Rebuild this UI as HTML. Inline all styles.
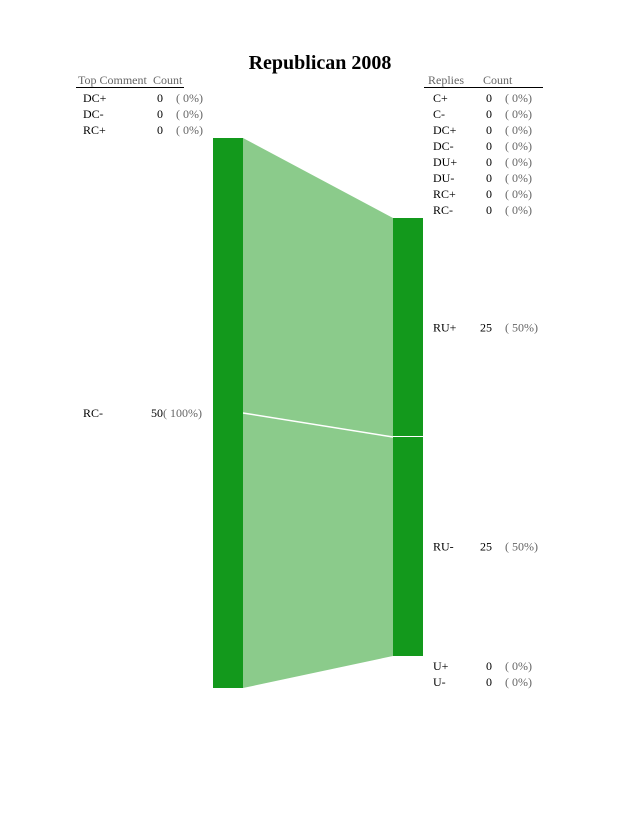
<!DOCTYPE html>
<html><head><meta charset="utf-8"><style>
body{margin:0;background:#fff;}
svg text{font-family:"Liberation Serif",serif;font-size:12px;}
</style></head><body>
<svg id="c" width="630" height="811">
<text x="320" y="69" text-anchor="middle" style="font-size:20px;font-weight:bold">Republican 2008</text>
<g>
<text x="78" y="84" fill="#666">Top Comment</text><text x="153" y="84" fill="#666">Count</text>
<line x1="76" y1="87.5" x2="184" y2="87.5" stroke="#000"/></g>
<g>
<text x="428" y="84" fill="#666">Replies</text><text x="483" y="84" fill="#666">Count</text>
<line x1="424" y1="87.5" x2="543" y2="87.5" stroke="#000"/></g>
</svg>
<script>
const leftCats=["DC+","DC-","RC+","RC-"];
const leftVals=[0,0,0,50];
const rightCats=["C+","C-","DC+","DC-","DU+","DU-","RC+","RC-","RU+","RU-","U+","U-"];
const rightVals=[0,0,0,0,0,0,0,0,25,25,0,0];
const flowSource=["RC-","RC-"];
const flowTarget=["RU+","RU-"];
const flowVals=[25,25];

const svg=document.getElementById('c');
const NS="http://www.w3.org/2000/svg";
function mk(t,a,p){const e=document.createElementNS(NS,t);for(const k in a)e.setAttribute(k,a[k]);(p||svg).appendChild(e);return e;}
const total=leftVals.reduce((a,b)=>a+b,0);
const rTotal=rightVals.reduce((a,b)=>a+b,0);
const lTop=138,lH=550,rTop=218,rH=438;
const ly=v=>v/total*lH, ry=v=>v/rTotal*rH;
const flowLayer=mk('g',{});


// left nodes
const lPos={};let y=lTop,zeroY=98;
leftCats.forEach((c,i)=>{
  const v=leftVals[i];let ty;
  if(v>0){const h=ly(v);lPos[c]={y0:y,cur:y};
    const r=mk('rect',{x:213,y:y,width:30,height:h,fill:'#13991c'});
    
    
    ty=y+h/2+4;y+=h;}
  else{ty=zeroY+4;zeroY+=16;}
  const g=mk('g',{});
  
  
  mk('text',{x:83,y:ty},g).textContent=c;
  mk('text',{x:163,y:ty,'text-anchor':'end'},g).textContent=v;
  mk('text',{x:v>0?163:176,y:ty,fill:'#666'},g).textContent='( '+Math.round(v/total*100)+'%)';
});
// right nodes
const rPos={};y=rTop;let ry0=98;let seenBig=false;
rightCats.forEach((c,i)=>{
  const v=rightVals[i];let ty;
  if(v>0){const h=ry(v);rPos[c]={y0:y,cur:y};seenBig=true;
    const r=mk('rect',{x:393,y:y,width:30,height:h-(i<rightCats.length-1&&rightVals[i+1]>0?1:0),fill:'#13991c'});
    
    
    ty=y+h/2+4;y+=h;}
  else{if(seenBig){ty=y+14;y+=16;}else{ty=ry0+4;ry0+=16;}}
  const g=mk('g',{});
  
  
  mk('text',{x:433,y:ty},g).textContent=c;
  mk('text',{x:492,y:ty,'text-anchor':'end'},g).textContent=v;
  mk('text',{x:505,y:ty,fill:'#666'},g).textContent='( '+Math.round(v/rTotal*100)+'%)';
});
// flows
flowVals.forEach((v,i)=>{
  const s=lPos[flowSource[i]],t=rPos[flowTarget[i]];
  const a=s.cur,b=a+ly(v),c=t.cur,d=c+ry(v);s.cur=b;t.cur=d;
  const p=mk('path',{d:`M243,${a}L393,${c}L393,${d}L243,${b}Z`,fill:'#8bcb8b'},flowLayer);
  
  
  if(i>0){
    const l=mk('line',{x1:243,y1:a,x2:393,y2:c,stroke:'#fff','stroke-width':1.5},flowLayer);
    
    
  }
});
</script>
</body></html>
